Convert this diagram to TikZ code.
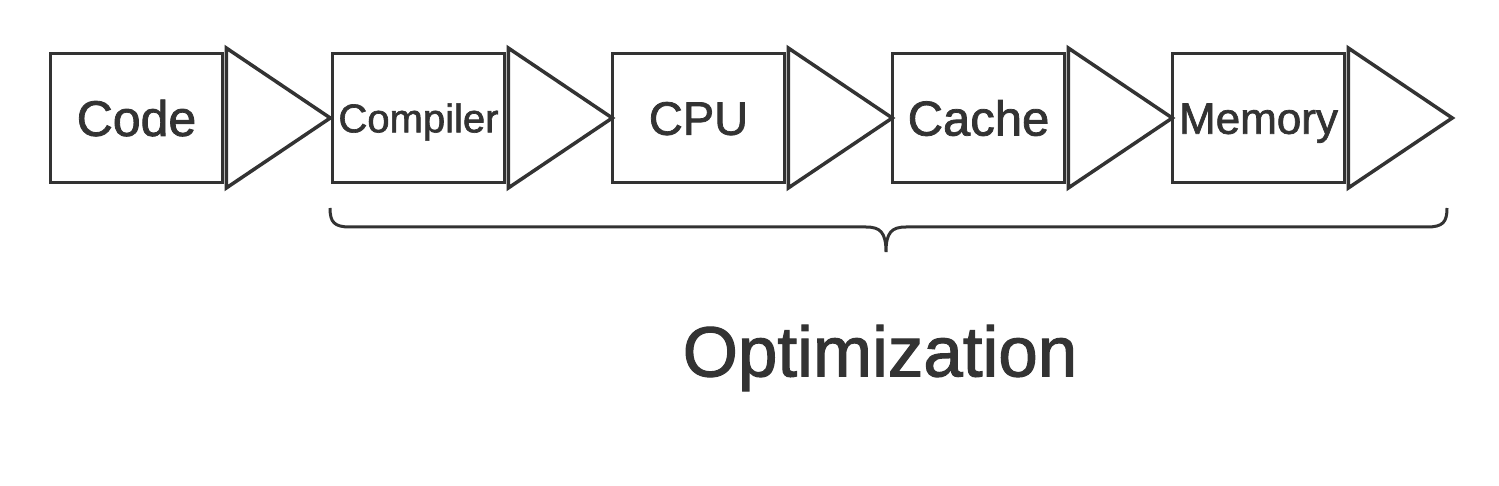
\documentclass[tikz,border=0pt]{standalone}
\usepackage{fontspec}
\setmainfont{Liberation Sans}
\newfontfamily\medfont{Liberation Sans}[FakeBold=1.6]
\usetikzlibrary{positioning}
\definecolor{ink}{HTML}{333333}
\tikzset{stage/.style={draw=ink,line width=3.5pt,minimum width=172pt,minimum height=129pt,inner sep=0pt,text=ink,text depth=0pt}}

\begin{document}
\begin{tikzpicture}[x=1pt,y=-1pt,line width=3.5pt,draw=ink]
  \useasboundingbox (0,0) rectangle (1499,486);
  \foreach \name/\xpos/\fs in {Code/136.5/50,Compiler/418.5/40,CPU/698.5/47,Cache/978.5/49,Memory/1258.5/44}
  {
    \node[stage,text height=0.716*\fs pt,font=\medfont\fontsize{\fs}{\fs}\selectfont] (\name) at (\xpos,118) {\name};
    \draw (\name.east) ++(2,-70) -- ++(0,140) -- ++(104,-70) -- cycle;
  }
  % brace under the last four stages
  \draw[line width=3pt] (330,208) .. controls (330,222) and (334,227) .. (350,227) -- (866,227)
    .. controls (880,227) and (886,232) .. (886,252)
    .. controls (886,232) and (892,227) .. (906,227) -- (1427,227)
    .. controls (1443,227) and (1447,222) .. (1447,208);
  \node[text=ink,font=\medfont\fontsize{71}{71}\selectfont,text height=50.8pt,text depth=0pt,inner sep=0pt] (opt) at (880,351) {Optimization};
\end{tikzpicture}
\end{document}
